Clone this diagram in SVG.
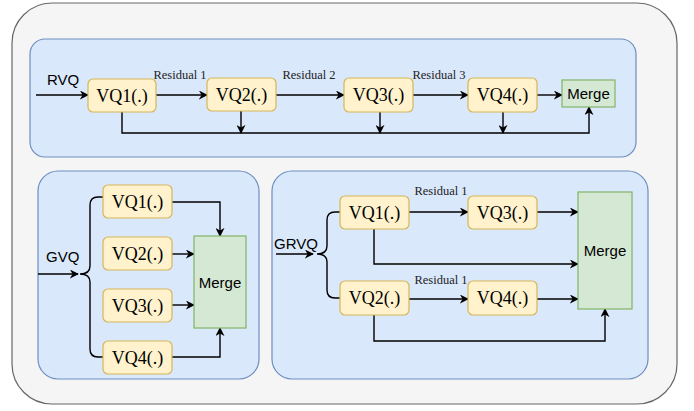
<svg xmlns="http://www.w3.org/2000/svg" width="694" height="411" viewBox="0 0 694 411">
<defs>
<marker id="arr" viewBox="0 0 10 10" refX="9" refY="5" markerWidth="9" markerHeight="9" markerUnits="userSpaceOnUse" orient="auto">
<path d="M0,0 L10,5 L0,10 L3,5 z" fill="#000"/>
</marker>
<style>
.outer{fill:#f5f5f5;stroke:#666666;stroke-width:1.2}
.panel{fill:#dae8fc;stroke:#6c8ebf;stroke-width:1.2}
.vq{fill:#fff2cc;stroke:#d6b656;stroke-width:1.2}
.mg{fill:#d5e8d4;stroke:#82b366;stroke-width:1.2}
.vqt{font-family:"Liberation Serif",serif;font-size:18px;fill:#000;text-anchor:middle;dominant-baseline:central}
.mgt{font-family:"Liberation Sans",sans-serif;font-size:15px;fill:#000;text-anchor:middle;dominant-baseline:central}
.lbl{font-family:"Liberation Sans",sans-serif;font-size:15px;fill:#000;dominant-baseline:central}
.res{font-family:"Liberation Serif",serif;font-size:12.5px;fill:#222;text-anchor:middle;dominant-baseline:central}
.c{fill:none;stroke:#000;stroke-width:1.4}
.a{fill:none;stroke:#000;stroke-width:1.4;marker-end:url(#arr)}
</style>
</defs>
<rect class="outer" x="12" y="3" width="665" height="401" rx="40"/>
<g id="panel-rvq"><rect class="panel" x="30" y="39" width="606" height="118" rx="15"/></g>
<g id="panel-gvq"><rect class="panel" x="38" y="171" width="221" height="208" rx="20"/></g>
<g id="panel-grvq"><rect class="panel" x="272" y="171" width="376" height="208" rx="20"/></g>

<g id="connectors">
<!-- RVQ -->
<path class="a" d="M36,95 L88,95"/>
<path class="a" d="M156,95 L207,95"/>
<path class="a" d="M276,95 L344,95"/>
<path class="a" d="M413,95 L468,95"/>
<path class="a" d="M537,95 L562,95"/>
<path class="a" d="M122,112 L122,133 L589,133 L589,107"/>
<path class="a" d="M241,111 L241,133"/>
<path class="a" d="M380,112 L380,133"/>
<path class="a" d="M503,112 L503,133"/>
<!-- GVQ -->
<path class="a" d="M38,274 L78,274"/>
<path class="c" d="M80,274 Q90,274 90,266 L90,205 Q90,197 98,197 L103,197 M80,274 Q90,274 90,282 L90,349 Q90,357 98,357 L103,357"/>
<path class="a" d="M172,202 L220,202 L220,236"/>
<path class="a" d="M172,254 L194,254"/>
<path class="a" d="M172,305 L194,305"/>
<path class="a" d="M172,357 L220,357 L220,328"/>
<!-- GRVQ -->
<path class="a" d="M276,254 L313,254"/>
<path class="c" d="M317,254 Q327,254 327,246 L327,220 Q327,212 335,212 L340,212 M317,254 Q327,254 327,262 L327,290 Q327,298 335,298 L340,298"/>
<path class="a" d="M409,212 L468,212"/>
<path class="a" d="M537,212 L578,212"/>
<path class="a" d="M374,229 L374,264 L578,264"/>
<path class="a" d="M409,299 L468,299"/>
<path class="a" d="M537,299 L578,299"/>
<path class="a" d="M374,315 L374,341 L605,341 L605,309"/>
</g>

<g id="labels">
<text class="lbl" x="47" y="79">RVQ</text>
<text class="res" x="180" y="75">Residual 1</text>
<text class="res" x="309" y="75">Residual 2</text>
<text class="res" x="439" y="75">Residual 3</text>
<text class="lbl" x="46" y="256">GVQ</text>
<text class="lbl" x="274" y="243">GRVQ</text>
<text class="res" x="441" y="191">Residual 1</text>
<text class="res" x="441" y="280">Residual 1</text>
</g>

<g id="rvq-vq1"><rect class="vq" x="88" y="79" width="68" height="33" rx="5"/><text class="vqt" x="122" y="95.5">VQ1(.)</text></g>
<g id="rvq-vq2"><rect class="vq" x="207" y="78" width="69" height="33" rx="5"/><text class="vqt" x="241.5" y="94.5">VQ2(.)</text></g>
<g id="rvq-vq3"><rect class="vq" x="344" y="78" width="69" height="34" rx="5"/><text class="vqt" x="378.5" y="95">VQ3(.)</text></g>
<g id="rvq-vq4"><rect class="vq" x="468" y="78" width="69" height="34" rx="5"/><text class="vqt" x="502.5" y="95">VQ4(.)</text></g>
<g id="rvq-merge"><rect class="mg" x="562" y="80" width="53" height="27"/><text class="mgt" x="588.5" y="93.5">Merge</text></g>

<g id="gvq-vq1"><rect class="vq" x="103" y="185" width="69" height="33" rx="5"/><text class="vqt" x="137.5" y="201.5">VQ1(.)</text></g>
<g id="gvq-vq2"><rect class="vq" x="103" y="237" width="69" height="33" rx="5"/><text class="vqt" x="137.5" y="253.5">VQ2(.)</text></g>
<g id="gvq-vq3"><rect class="vq" x="103" y="289" width="69" height="33" rx="5"/><text class="vqt" x="137.5" y="305.5">VQ3(.)</text></g>
<g id="gvq-vq4"><rect class="vq" x="103" y="341" width="69" height="33" rx="5"/><text class="vqt" x="137.5" y="357.5">VQ4(.)</text></g>
<g id="gvq-merge"><rect class="mg" x="194" y="236" width="52" height="92"/><text class="mgt" x="220" y="282">Merge</text></g>

<g id="grvq-vq1"><rect class="vq" x="340" y="196" width="69" height="33" rx="5"/><text class="vqt" x="374.5" y="212.5">VQ1(.)</text></g>
<g id="grvq-vq3"><rect class="vq" x="468" y="196" width="69" height="33" rx="5"/><text class="vqt" x="502.5" y="212.5">VQ3(.)</text></g>
<g id="grvq-vq2"><rect class="vq" x="340" y="281" width="69" height="34" rx="5"/><text class="vqt" x="374.5" y="298">VQ2(.)</text></g>
<g id="grvq-vq4"><rect class="vq" x="468" y="281" width="69" height="34" rx="5"/><text class="vqt" x="502.5" y="298">VQ4(.)</text></g>
<g id="grvq-merge"><rect class="mg" x="578" y="192" width="54" height="117"/><text class="mgt" x="605" y="250">Merge</text></g>
</svg>
